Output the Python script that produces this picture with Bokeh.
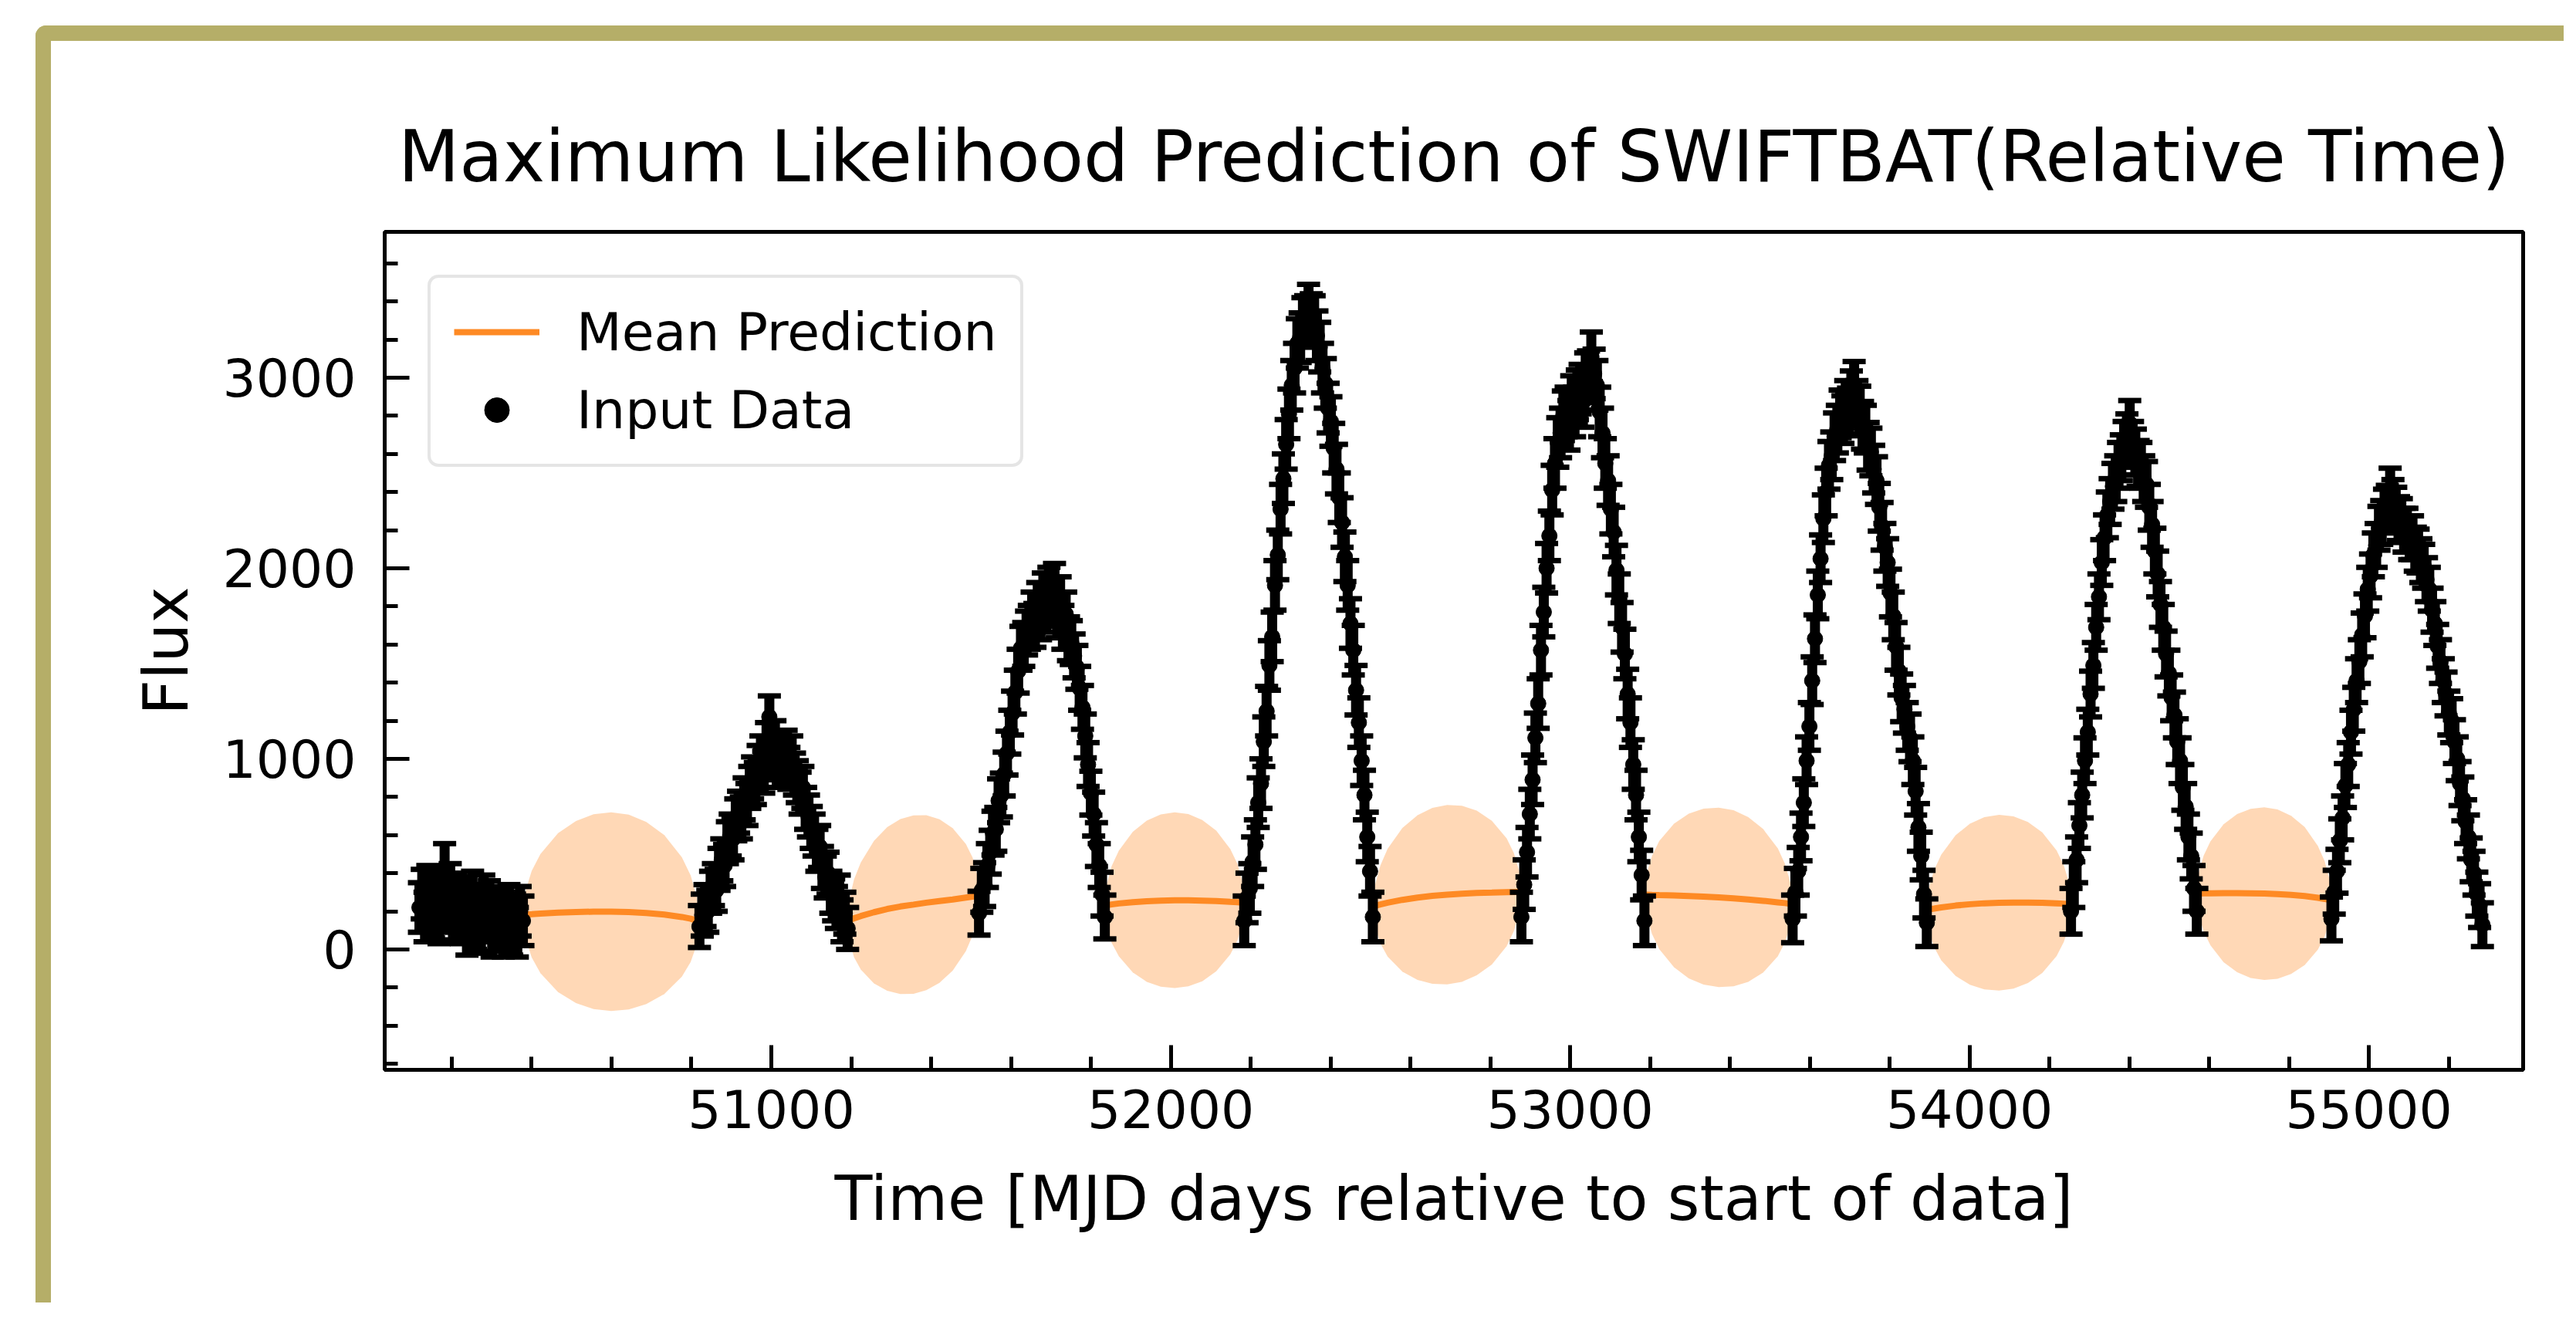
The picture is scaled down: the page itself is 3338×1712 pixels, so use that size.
from bokeh.plotting import figure
from bokeh.models import Range1d, SingleIntervalTicker, Legend, LegendItem, ColumnDataSource
from bokeh.layouts import column
from bokeh.embed import file_html
from bokeh.resources import INLINE

FONT = "DejaVu Sans"

# ---------------- data ----------------
T0 = [50119, 50126, 50133, 50140, 50147, 50154, 50161, 50168, 50175, 50182, 50189, 50196, 50203,
      50210, 50217, 50224, 50231, 50238, 50245, 50252, 50259, 50266, 50273, 50280, 50287, 50294,
      50301, 50308, 50315, 50322, 50329, 50336, 50343, 50350, 50357, 50364, 50371, 50378]
F0 = [220, 290, 170, 310, 240, 190, 300, 160, 260, 425, 220, 320, 180, 270, 240, 160, 250, 100,
      210, 280, 130, 200, 110, 260, 170, 230, 90, 190, 120, 200, 90, 170, 210, 100, 160, 90, 200, 150]

T1 = [50820, 50827, 50834, 50841, 50848, 50855, 50862, 50869, 50876, 50883, 50890, 50897, 50904,
      50911, 50918, 50925, 50932, 50939, 50946, 50953, 50960, 50967, 50974, 50981, 50988, 50995,
      51002, 51009, 51016, 51023, 51030, 51037, 51044, 51051, 51058, 51065, 51072, 51079, 51086,
      51093, 51100, 51107, 51114, 51121, 51128, 51135, 51142, 51149, 51156, 51163, 51170, 51177,
      51184, 51191]
F1 = [120, 180, 230, 200, 300, 340, 310, 420, 470, 440, 560, 600, 580, 680, 720, 690, 790, 760,
      850, 900, 870, 960, 1010, 930, 1080, 1220, 1000, 1090, 960, 1030, 980, 1040, 950, 1010, 920,
      880, 820, 850, 740, 700, 640, 600, 520, 540, 430, 380, 400, 300, 260, 220, 280, 150, 190, 110]

T2 = [51520, 51527, 51534, 51541, 51548, 51555, 51562, 51569, 51576, 51583, 51590, 51597, 51604,
      51611, 51618, 51625, 51632, 51639, 51646, 51653, 51660, 51667, 51674, 51681, 51688, 51695,
      51702, 51709, 51716, 51723, 51730, 51737, 51744, 51751, 51758, 51765, 51772, 51779, 51786,
      51793, 51800, 51807, 51814, 51821, 51828, 51835]
F2 = [190, 310, 340, 440, 510, 610, 630, 780, 810, 920, 1030, 1140, 1240, 1350, 1460, 1580, 1600,
      1660, 1690, 1760, 1700, 1810, 1740, 1860, 1780, 1890, 1810, 1910, 1750, 1840, 1690, 1760,
      1630, 1610, 1540, 1480, 1370, 1270, 1120, 970, 820, 710, 550, 440, 290, 170]

T3 = [52184, 52191, 52198, 52205, 52212, 52219, 52226, 52233, 52240, 52247, 52254, 52261, 52268,
      52275, 52282, 52289, 52296, 52303, 52310, 52317, 52324, 52331, 52338, 52345, 52352, 52359,
      52366, 52373, 52380, 52387, 52394, 52401, 52408, 52415, 52422, 52429, 52436, 52443, 52450,
      52457, 52464, 52471, 52478, 52485, 52492, 52499, 52506]
F3 = [150, 270, 320, 460, 550, 770, 870, 1090, 1250, 1490, 1640, 1910, 2070, 2310, 2470, 2650,
      2810, 2960, 3050, 3180, 3210, 3290, 3300, 3360, 3310, 3300, 3220, 3160, 3050, 2970, 2840,
      2770, 2630, 2520, 2370, 2240, 2060, 1910, 1710, 1570, 1360, 1190, 990, 810, 590, 410, 170]

T4 = [52878, 52885, 52892, 52899, 52906, 52913, 52920, 52927, 52934, 52941, 52948, 52955, 52962,
      52969, 52976, 52983, 52990, 52997, 53004, 53011, 53018, 53025, 53032, 53039, 53046, 53053,
      53060, 53067, 53074, 53081, 53088, 53095, 53102, 53109, 53116, 53123, 53130, 53137, 53144,
      53151, 53158, 53165, 53172, 53179, 53186]
F4 = [170, 340, 510, 710, 890, 1110, 1290, 1570, 1770, 2000, 2170, 2410, 2550, 2660, 2710, 2800,
      2820, 2750, 2880, 2820, 2910, 2940, 2870, 3000, 3010, 3110, 3020, 2960, 2820, 2710, 2550,
      2460, 2310, 2190, 1990, 1840, 1690, 1550, 1340, 1190, 970, 810, 590, 390, 150]

T5 = [53557, 53564, 53571, 53578, 53585, 53592, 53599, 53606, 53613, 53620, 53627, 53634, 53641,
      53648, 53655, 53662, 53669, 53676, 53683, 53690, 53697, 53704, 53711, 53718, 53725, 53732,
      53739, 53746, 53753, 53760, 53767, 53774, 53781, 53788, 53795, 53802, 53809, 53816, 53823,
      53830, 53837, 53844, 53851, 53858, 53865, 53872, 53879, 53886, 53893]
F5 = [160, 300, 410, 590, 770, 990, 1170, 1410, 1630, 1860, 2050, 2260, 2400, 2540, 2590, 2690,
      2730, 2810, 2780, 2860, 2820, 2910, 2960, 2860, 2830, 2750, 2730, 2640, 2610, 2520, 2460,
      2320, 2220, 2110, 2030, 1870, 1750, 1590, 1460, 1320, 1260, 1170, 1110, 990, 830, 640, 490,
      290, 140]

T6 = [54254, 54261, 54268, 54275, 54282, 54289, 54296, 54303, 54310, 54317, 54324, 54331, 54338,
      54345, 54352, 54359, 54366, 54373, 54380, 54387, 54394, 54401, 54408, 54415, 54422, 54429,
      54436, 54443, 54450, 54457, 54464, 54471, 54478, 54485, 54492, 54499, 54506, 54513, 54520,
      54527, 54534, 54541, 54548, 54555, 54562, 54569]
F6 = [200, 340, 470, 650, 810, 990, 1140, 1340, 1490, 1690, 1850, 2030, 2160, 2280, 2350, 2430,
      2470, 2540, 2580, 2650, 2690, 2760, 2650, 2610, 2550, 2540, 2470, 2440, 2320, 2230, 2090,
      1970, 1810, 1690, 1550, 1450, 1320, 1230, 1090, 990, 850, 750, 590, 490, 320, 200]

T7 = [54906, 54913, 54920, 54927, 54934, 54941, 54948, 54955, 54962, 54969, 54976, 54983, 54990,
      54997, 55004, 55011, 55018, 55025, 55032, 55039, 55046, 55053, 55060, 55067, 55074, 55081,
      55088, 55095, 55102, 55109, 55116, 55123, 55130, 55137, 55144, 55151, 55158, 55165, 55172,
      55179, 55186, 55193, 55200, 55207, 55214, 55221, 55228, 55235, 55242, 55249, 55256, 55263,
      55270, 55277, 55284]
F7 = [160, 300, 410, 570, 690, 860, 970, 1140, 1260, 1410, 1510, 1650, 1750, 1890, 1960, 2070,
      2120, 2210, 2240, 2300, 2320, 2410, 2350, 2310, 2260, 2250, 2200, 2200, 2160, 2160, 2100,
      2090, 2040, 2010, 1940, 1890, 1780, 1710, 1590, 1510, 1410, 1340, 1240, 1200, 1090, 1000,
      870, 790, 670, 590, 470, 400, 290, 230, 130]

# error-bar half length for each observing season
ERR = [130, 110, 115, 130, 130, 125, 120, 115]

# mean prediction and band half-width inside each gap
G1_T = [50378, 50385, 50400, 50422, 50466, 50511, 50555, 50599, 50643, 50687, 50732, 50776, 50798, 50813, 50820]
G1_M = [182, 183, 185, 188, 193, 196, 198, 198, 196, 191, 183, 170, 161, 151, 146]
G1_H = [0, 127, 227, 313, 417, 478, 511, 521, 511, 478, 417, 313, 227, 127, 0]

G2_T = [51191, 51196, 51207, 51224, 51257, 51290, 51323, 51356, 51388, 51421, 51454, 51487, 51504, 51515, 51520]
G2_M = [151, 155, 163, 175, 195, 212, 225, 235, 245, 254, 262, 272, 277, 281, 283]
G2_H = [0, 114, 204, 281, 374, 429, 459, 468, 459, 429, 374, 281, 204, 114, 0]

G3_T = [51835, 51840, 51852, 51870, 51905, 51940, 51975, 52010, 52044, 52079, 52114, 52149, 52167, 52179, 52184]
G3_M = [230, 232, 236, 241, 248, 253, 256, 258, 258, 256, 254, 250, 248, 246, 245]
G3_H = [0, 112, 201, 277, 369, 423, 452, 461, 452, 423, 369, 277, 201, 112, 0]

G4_T = [52506, 52512, 52525, 52543, 52580, 52618, 52655, 52692, 52729, 52766, 52804, 52841, 52859, 52872, 52878]
G4_M = [226, 229, 236, 245, 260, 272, 281, 287, 292, 296, 298, 300, 301, 301, 301]
G4_H = [0, 114, 205, 283, 377, 432, 462, 471, 462, 432, 377, 283, 205, 114, 0]

G5_T = [53186, 53192, 53205, 53223, 53260, 53297, 53334, 53372, 53409, 53446, 53483, 53520, 53538, 53551, 53557]
G5_M = [287, 287, 286, 285, 283, 280, 277, 273, 268, 262, 255, 247, 243, 239, 237]
G5_H = [0, 114, 205, 283, 377, 432, 462, 471, 462, 432, 377, 283, 205, 114, 0]

G6_T = [53893, 53898, 53911, 53929, 53965, 54001, 54037, 54074, 54110, 54146, 54182, 54218, 54236, 54249, 54254]
G6_M = [208, 210, 214, 220, 230, 237, 242, 245, 246, 246, 245, 242, 240, 238, 237]
G6_H = [0, 112, 201, 277, 369, 423, 452, 461, 452, 423, 369, 277, 201, 112, 0]

G7_T = [54569, 54574, 54586, 54603, 54636, 54670, 54704, 54738, 54771, 54805, 54839, 54872, 54889, 54901, 54906]
G7_M = [293, 293, 294, 294, 295, 295, 294, 293, 290, 286, 280, 271, 265, 259, 255]
G7_H = [0, 110, 198, 272, 362, 415, 444, 453, 444, 415, 362, 272, 198, 110, 0]

TIMES = [T0, T1, T2, T3, T4, T5, T6, T7]
FLUXES = [F0, F1, F2, F3, F4, F5, F6, F7]
GAPS = [(G1_T, G1_M, G1_H), (G2_T, G2_M, G2_H), (G3_T, G3_M, G3_H), (G4_T, G4_M, G4_H),
        (G5_T, G5_M, G5_H), (G6_T, G6_M, G6_H), (G7_T, G7_M, G7_H)]

TITLE = "Maximum Likelihood Prediction of SWIFTBAT(Relative Time)"
XLABEL = "Time [MJD days relative to start of data]"
YLABEL = "Flux"

ORANGE = "#ff7f0e"
LINE_ORANGE = "#fe8a24"

# ---------------- figure ----------------
p = figure(width=3256, height=1635, output_backend="svg", toolbar_location=None,
           x_range=Range1d(50032, 55386), y_range=Range1d(-632, 3765),
           min_border_left=432, min_border_right=53, min_border_top=247, min_border_bottom=302,
           title=TITLE)
p.grid.visible = False
p.outline_line_color = "black"
p.outline_line_width = 5
p.background_fill_color = "white"
p.border_fill_color = "white"

p.title.text_font = FONT
p.title.text_font_size = "92px"
p.title.text_font_style = "normal"
p.title.text_color = "black"
p.title.align = "center"
p.title.vertical_align = "middle"
p.title.standoff = 86
p.title.offset = 9

for ax in (p.xaxis[0], p.yaxis[0]):
    ax.axis_line_width = 5
    ax.axis_line_color = "black"
    ax.major_tick_line_width = 5
    ax.minor_tick_line_width = 5
    ax.major_tick_in = 32
    ax.major_tick_out = 0
    ax.minor_tick_in = 17
    ax.minor_tick_out = 0
    ax.major_label_text_font = FONT
    ax.major_label_text_font_size = "68px"
    ax.major_label_text_color = "black"
    ax.axis_label_text_font = FONT
    ax.axis_label_text_font_size = "80px"
    ax.axis_label_text_font_style = "normal"
    ax.axis_label_text_color = "black"

p.xaxis.ticker = SingleIntervalTicker(interval=1000, num_minor_ticks=5)
p.yaxis.ticker = SingleIntervalTicker(interval=1000, num_minor_ticks=5)
p.xaxis.axis_label = XLABEL
p.yaxis.axis_label = YLABEL
p.xaxis.major_label_standoff = 25
p.xaxis.axis_label_standoff = 42
p.yaxis.major_label_standoff = 37
p.yaxis.axis_label_standoff = 23

# prediction bands and mean lines
mean_r = None
for gx, gm, gh in GAPS:
    lo = [m - h for m, h in zip(gm, gh)]
    hi = [m + h for m, h in zip(gm, gh)]
    p.varea(x=gx, y1=lo, y2=hi, fill_color=ORANGE, fill_alpha=0.3)
    r = p.line(gx, gm, line_color=LINE_ORANGE, line_width=8)
    if mean_r is None:
        mean_r = r

# input data with error bars
circ_r = None
for T, F, e in zip(TIMES, FLUXES, ERR):
    src = ColumnDataSource(dict(t=T, f=F, lo=[v - e for v in F], hi=[v + e for v in F]))
    p.segment(x0="t", y0="lo", x1="t", y1="hi", source=src, line_color="black", line_width=13)
    p.scatter("t", "lo", marker="dash", size=30, line_width=7, line_color="black", source=src)
    p.scatter("t", "hi", marker="dash", size=30, line_width=7, line_color="black", source=src)
    c = p.scatter("t", "f", marker="circle", size=20, fill_color="black", line_color="black", source=src)
    if circ_r is None:
        circ_r = c

legend = Legend(items=[LegendItem(label="Mean Prediction", renderers=[mean_r]),
                       LegendItem(label="Input Data", renderers=[circ_r])],
                location="top_left")
legend.label_text_font = FONT
legend.label_text_font_size = "68px"
legend.label_text_color = "black"
legend.glyph_width = 111
legend.glyph_height = 80
legend.label_height = 80
legend.label_standoff = 48
legend.spacing = 21
legend.padding = 30
legend.margin = 56
legend.border_line_color = "#cccccc"
legend.border_line_width = 4
legend.background_fill_color = "white"
legend.background_fill_alpha = 0.8
if "border_radius" in Legend.properties():
    legend.border_radius = 14
p.add_layout(legend)

layout = column(p, margin=(33, 0, 0, 46),
                styles={"border-left": "20px solid #b5ae68",
                        "border-top": "20px solid #b5ae68",
                        "border-top-left-radius": "14px"})

open("out.html", "w").write(file_html(layout, INLINE))
